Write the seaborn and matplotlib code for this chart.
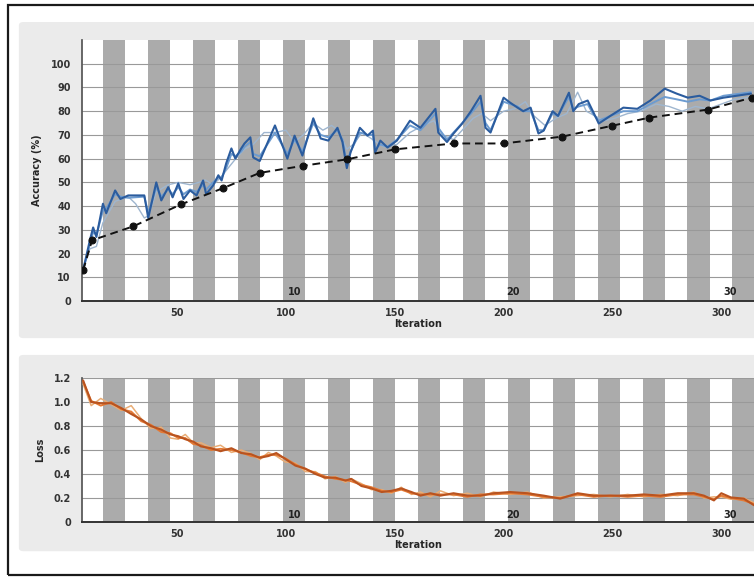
import matplotlib
matplotlib.use("Agg")
import matplotlib.pyplot as plt
import seaborn as sns
import pandas as pd
import numpy as np
from matplotlib.patches import Rectangle, FancyBboxPatch

# ---- data ----
acc_it = [6.9, 10, 11.5, 13, 16, 17.5, 21.6, 24, 27.6, 35, 36.8, 40.5, 42.8, 46, 48, 50.6, 53, 56, 59, 62,
          63.4, 66.6, 69, 70.5, 72.6, 75, 76.8, 79.5, 81, 83.7, 85, 88, 95, 100.7, 104, 107.6, 112.6, 116,
          119.5, 123.7, 126, 128, 129.7, 134, 137.5, 140, 141, 143.4, 146.7, 151, 157, 161.8, 168.7, 170,
          174, 177, 181, 185, 189.4, 191.7, 194, 200, 203, 206.4, 209, 212.4, 216, 218.4, 222.5, 225, 230,
          232, 234.5, 238.6, 241, 243.7, 249, 255, 261.4, 267.4, 274, 279.5, 284.6, 290, 295, 301, 313.6]
acc_dark = [13, 25.6, 31, 27, 41, 37, 46.6, 43, 44.5, 44.5, 35, 50, 42.4, 48, 43.7, 49.6, 43, 46.6, 44.5, 50.8,
            45, 48.7, 53, 50.8, 58, 64.3, 60, 64.3, 66.4, 69, 60.5, 59, 74, 60, 69.7, 61.3, 77, 68.5,
            67.6, 73, 67, 56, 62.6, 73, 69.7, 71.8, 62.6, 67.6, 64.7, 67.6, 76, 73, 81, 71,
            67, 70.6, 74.8, 80, 86.5, 73, 71, 85.7, 83.6, 81.5, 80, 81.5, 70.6, 71.8, 80, 78, 87.8,
            80, 83, 84.5, 80, 74.8, 78, 81.5, 81, 84.5, 89.5, 87.4, 85.7, 86.5, 84.5, 85.7, 87.4]
acc_mid = [13, 24, 29, 28, 38, 39, 45, 44, 43.5, 44, 37, 48, 44, 47, 45, 48, 45, 47, 46, 49,
           47, 50, 52, 52, 56, 62, 61, 63, 65, 67, 62, 61, 71, 62, 68, 63, 75, 70,
           69, 72, 68, 58, 63, 71, 70, 70, 64, 66, 65, 68, 74, 72, 79, 73,
           68, 71, 75, 79, 84, 75, 72, 84, 83, 82, 80, 80, 72, 72, 79, 78, 86,
           81, 82, 83, 79, 76, 78, 80, 80, 83, 86, 85, 84, 85, 84.5, 86.5, 88]
light_it = [6.9, 10, 13, 16, 21.6, 27.6, 31, 35, 37, 40.5, 46, 50.6, 56, 60, 63, 66.6, 70, 72.6, 77, 81,
            85, 90, 95, 100, 104, 108, 112.6, 117, 121, 124, 128, 131, 135, 140, 145, 151, 157, 163,
            168, 172, 177, 182, 186, 190, 194, 200, 205, 210, 214, 219, 224, 229, 234, 238, 242, 246,
            251, 257, 263, 270, 276, 282, 288, 294, 300, 306, 313.6]
acc_light = [14, 22, 23, 33, 42, 44, 41, 35, 36, 46, 49, 50, 49, 50, 51, 49, 52, 55, 60, 64,
             66, 71, 71, 72, 67, 70, 75, 72, 74, 72, 64, 66, 71, 68, 65, 66, 71, 74,
             76, 70, 68, 73, 77, 79, 76, 80, 81, 84, 78, 74, 77, 79, 88, 80, 78, 76,
             77, 79, 80, 83, 82, 80, 82, 81, 83, 85, 86]
val_it = [6.9, 11, 30, 52, 71, 88, 108, 128, 150, 177, 200, 227, 250, 267, 294, 314]
val_acc = [13, 25.6, 31.5, 40.8, 47.5, 54, 57, 59.7, 63.9, 66.4, 66.4, 69.3, 73.9, 77.3, 80.7, 85.7]

loss_it = [6.9, 10.6, 15, 19.8, 24.4, 29, 33.6, 38, 42.8, 47, 50.6, 53.8, 57.5, 61, 65.7, 70, 75, 79.5,
           84, 88, 92, 95.6, 99.8, 104.4, 109, 113.6, 118, 122.8, 127.4, 130, 134.7, 139.3, 144, 148.5,
           153, 157.7, 161.8, 166.4, 171, 177, 183.4, 189.4, 195.4, 203, 211, 218.4, 226, 234, 241.4,
           249, 257, 264.4, 272, 280, 287.4, 292, 296.6, 300, 304.4, 310.3, 315]
loss_dark = [1.18, 1.0, 0.99, 0.99, 0.95, 0.90, 0.855, 0.80, 0.77, 0.73, 0.715, 0.69, 0.67, 0.63, 0.615,
             0.59, 0.615, 0.575, 0.565, 0.535, 0.55, 0.575, 0.525, 0.47, 0.445, 0.40, 0.37, 0.37, 0.345,
             0.36, 0.30, 0.28, 0.25, 0.26, 0.28, 0.25, 0.22, 0.24, 0.22, 0.24, 0.22, 0.22, 0.24, 0.25,
             0.24, 0.22, 0.195, 0.24, 0.22, 0.22, 0.22, 0.23, 0.22, 0.24, 0.24, 0.22, 0.18, 0.24, 0.205,
             0.195, 0.14]
loss_mid = [1.17, 1.01, 0.97, 1.0, 0.94, 0.92, 0.84, 0.81, 0.75, 0.74, 0.70, 0.70, 0.65, 0.64, 0.60,
            0.61, 0.60, 0.58, 0.55, 0.54, 0.56, 0.56, 0.53, 0.48, 0.44, 0.41, 0.38, 0.36, 0.35,
            0.34, 0.31, 0.29, 0.26, 0.25, 0.27, 0.24, 0.23, 0.23, 0.23, 0.23, 0.21, 0.23, 0.23, 0.24,
            0.23, 0.21, 0.20, 0.23, 0.21, 0.22, 0.21, 0.22, 0.21, 0.23, 0.23, 0.21, 0.19, 0.22, 0.20,
            0.18, 0.15]
loss_light = [1.15, 0.97, 1.03, 0.98, 0.93, 0.97, 0.86, 0.78, 0.79, 0.70, 0.69, 0.73, 0.66, 0.66, 0.62,
              0.64, 0.58, 0.60, 0.57, 0.52, 0.58, 0.55, 0.50, 0.49, 0.42, 0.42, 0.36, 0.38, 0.33,
              0.36, 0.32, 0.27, 0.27, 0.24, 0.29, 0.23, 0.25, 0.21, 0.26, 0.22, 0.24, 0.21, 0.25, 0.23,
              0.25, 0.20, 0.21, 0.22, 0.23, 0.21, 0.23, 0.21, 0.23, 0.22, 0.25, 0.20, 0.21, 0.21, 0.19,
              0.20, 0.16]

x_ticks = [50, 100, 150, 200, 250, 300]
epoch_it = [100, 200, 300]
epoch_lbl = ["10", "20", "30"]

# ---- style ----
sns.set_theme(style="white")
plt.rcParams['font.family'] = ['DejaVu Sans']

fig = plt.figure(figsize=(7.54, 5.79), dpi=100)
fig.patch.set_facecolor("white")

# outer frame and grey panels (behind the axes)
fig.patches.append(Rectangle((0.0106, 0.007), 1.2, 0.985, transform=fig.transFigure,
                             fill=False, ec="#1a1a1a", lw=1.6, zorder=-2))
for y0, h in [(0.416, 0.546), (0.048, 0.339)]:
    fig.patches.append(FancyBboxPatch((0.025, y0), 1.2, h, boxstyle="round,pad=0,rounding_size=0.006",
                                      transform=fig.transFigure, fc="#ebebeb", ec="none", zorder=-1))

ax1 = fig.add_axes([0.1088, 0.4801, 0.8912, 0.4508])
ax2 = fig.add_axes([0.1088, 0.0984, 0.8912, 0.2487])

stripe_start = np.arange(16, 320, 20.65)
stripe_w = 10.2

for ax in (ax1, ax2):
    ax.set_zorder(2)
    ax.set_facecolor("white")
    for s in stripe_start:
        ax.axvspan(s, s + stripe_w, color="#ababab", lw=0, zorder=0.1)
    ax.set_xlim(6.4, 315)
    ax.set_xticks(x_ticks)
    ax.grid(axis="y", color="#999999", lw=0.8)
    ax.set_axisbelow(True)
    for sp in ["top", "right"]:
        ax.spines[sp].set_visible(False)
    ax.spines["left"].set_color("#555555")
    ax.spines["bottom"].set_color("#333333")
    ax.spines["bottom"].set_linewidth(1.4)
    ax.tick_params(axis="x", direction="in", length=6, width=1.2, color="#333333",
                   labelsize=7, pad=5, labelcolor="#333333")
    ax.tick_params(axis="y", direction="in", length=6, width=1, color="#666666",
                   labelsize=7, pad=8, labelcolor="#333333")

# ---- accuracy ----
df_light = pd.DataFrame({"it": light_it, "acc": acc_light})
df_acc = pd.DataFrame({"it": acc_it, "dark": acc_dark, "mid": acc_mid})
df_val = pd.DataFrame({"it": val_it, "acc": val_acc})
sns.lineplot(data=df_light, x="it", y="acc", ax=ax1, color="#9fb6cf", lw=1.0, zorder=3)
sns.lineplot(data=df_acc, x="it", y="mid", ax=ax1, color="#6c9bd0", lw=1.4, zorder=4)
sns.lineplot(data=df_acc, x="it", y="dark", ax=ax1, color="#2b5c9e", lw=1.5, zorder=5)
sns.lineplot(data=df_val, x="it", y="acc", ax=ax1, color="#111111", lw=1.4, ls=(0, (4, 2.5)),
             marker="o", markersize=5, markeredgecolor="#111111", zorder=6)
ax1.set_ylim(0, 110)
ax1.set_yticks(range(0, 101, 10))
ax1.set_ylabel("Accuracy (%)", fontsize=7, fontweight="bold", labelpad=6)
ax1.set_xlabel("Iteration", fontsize=7, fontweight="bold", labelpad=1)

# ---- loss ----
df_loss = pd.DataFrame({"it": loss_it, "dark": loss_dark, "mid": loss_mid, "light": loss_light})
sns.lineplot(data=df_loss, x="it", y="light", ax=ax2, color="#e9ad76", lw=1.1, zorder=3)
sns.lineplot(data=df_loss, x="it", y="mid", ax=ax2, color="#e47a35", lw=1.4, zorder=4)
sns.lineplot(data=df_loss, x="it", y="dark", ax=ax2, color="#b9531f", lw=1.5, zorder=5)
ax2.set_ylim(0, 1.2)
ax2.set_yticks([0, 0.2, 0.4, 0.6, 0.8, 1.0, 1.2])
ax2.set_yticklabels(["0", "0.2", "0.4", "0.6", "0.8", "1.0", "1.2"])
ax2.set_ylabel("Loss", fontsize=7, fontweight="bold", labelpad=6)
ax2.set_xlabel("Iteration", fontsize=7, fontweight="bold", labelpad=1)

for ax in (ax1, ax2):
    for lab in ax.get_xticklabels() + ax.get_yticklabels():
        lab.set_fontweight("bold")

for ax, yv in ((ax1, 2.5), (ax2, 0.03)):
    for e, t in zip(epoch_it, epoch_lbl):
        ax.text(e + 1, yv, t, fontsize=7, fontweight="bold", color="#222222", zorder=7)

fig.savefig("out.png", dpi=100)
